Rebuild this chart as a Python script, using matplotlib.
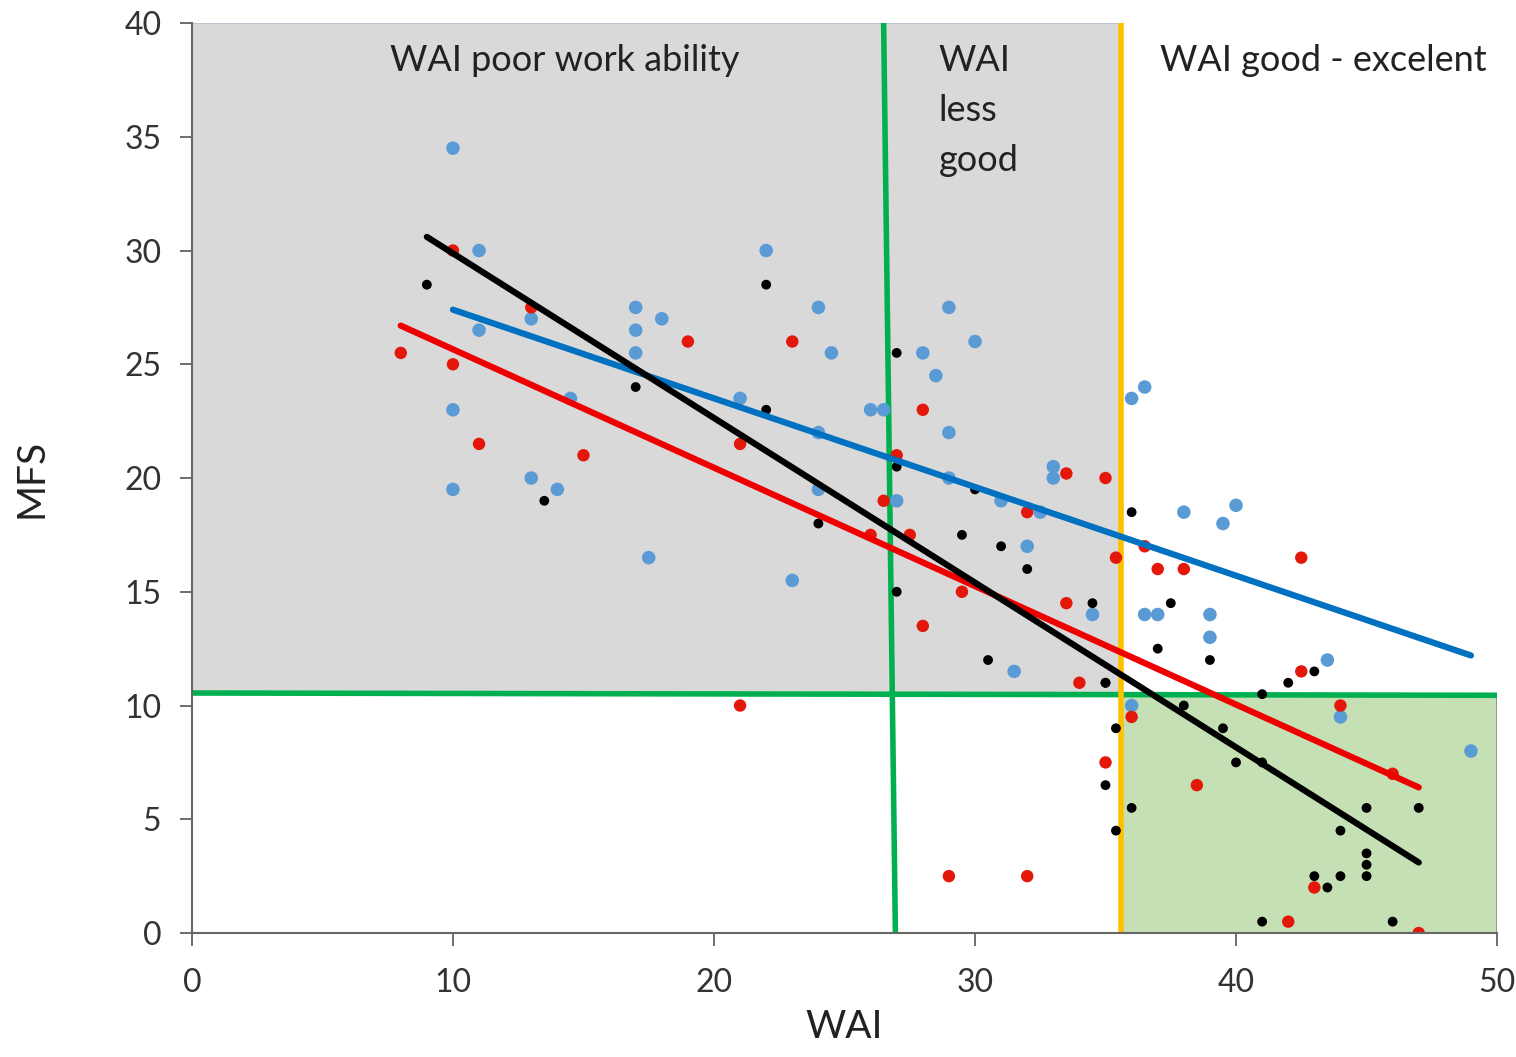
import matplotlib.pyplot as plt
import matplotlib.patches as mpatches

plt.rcParams['font.family'] = ['Lato', 'DejaVu Sans']

# scatter data (WAI, MFS)
blue_x = [10, 11, 11, 10, 10, 13, 13, 14, 14.5, 17, 17, 17, 18, 17.5, 22, 21, 24, 24.5, 24, 24,
          23, 26, 26.5, 27, 29, 28, 28.5, 29, 29, 30, 33, 33, 31, 32.5, 32, 34.5, 31.5, 36, 36.5,
          36.5, 37, 39, 39, 38, 39.5, 40, 43.5, 36, 44, 49]
blue_y = [34.5, 30, 26.5, 23, 19.5, 20, 27, 19.5, 23.5, 27.5, 26.5, 25.5, 27, 16.5, 30, 23.5, 27.5, 25.5, 22, 19.5,
          15.5, 23, 23, 19, 27.5, 25.5, 24.5, 22, 20, 26, 20.5, 20, 19, 18.5, 17, 14, 11.5, 23.5, 24,
          14, 14, 14, 13, 18.5, 18, 18.8, 12, 10, 9.5, 8]

red_x = [8, 10, 10, 11, 13, 15, 19, 23, 21, 21, 26, 26.5, 27, 27.5, 28, 28, 29.5, 32, 33.5, 35,
         33.5, 34, 35.4, 36.5, 37, 38, 42.5, 42.5, 44, 36, 35, 38.5, 43, 42, 47, 46, 29, 32]
red_y = [25.5, 30, 25, 21.5, 27.5, 21, 26, 26, 21.5, 10, 17.5, 19, 21, 17.5, 23, 13.5, 15, 18.5, 20.2, 20,
         14.5, 11, 16.5, 17, 16, 16, 16.5, 11.5, 10, 9.5, 7.5, 6.5, 2, 0.5, 0, 7, 2.5, 2.5]

black_x = [9, 13.5, 17, 22, 22, 24, 27, 27, 27, 29.5, 31, 32, 30.5, 30, 34.5, 35, 36, 37, 37.5, 39,
           35, 41, 42, 43, 38, 39.5, 35.4, 40, 41, 35, 36, 45, 47, 35.4, 44, 45, 45, 45, 43, 44,
           43.5, 41, 46]
black_y = [28.5, 19, 24, 28.5, 23, 18, 25.5, 20.5, 15, 17.5, 17, 16, 12, 19.5, 14.5, 11, 18.5, 12.5, 14.5, 12,
           11, 10.5, 11, 11.5, 10, 9, 9, 7.5, 7.5, 6.5, 5.5, 5.5, 5.5, 4.5, 4.5, 3.5, 3, 2.5, 2.5, 2.5,
           2, 0.5, 0.5]

# trend line end points
blue_line_x, blue_line_y = [10, 49], [27.4, 12.2]
red_line_x, red_line_y = [8, 47], [26.7, 6.4]
black_line_x, black_line_y = [9, 47], [30.6, 3.1]

# cut-off lines
mfs_cut = [10.55, 10.45]
wai_poor_x, wai_poor_y = [26.5, 26.95], [40, 0]
wai_good = 35.6

fig = plt.figure(figsize=(15.16, 10.57), dpi=100)
ax = fig.add_axes([0.1266, 0.1173, 0.8609, 0.8609])
ax.set_xlim(0, 50)
ax.set_ylim(0, 40)

# shaded zones
ax.add_patch(mpatches.Rectangle((0, 10.5), wai_good, 29.5, facecolor='#d9d9d9',
                                edgecolor='#b4c0cc', lw=1.2, zorder=0))
ax.add_patch(mpatches.Rectangle((wai_good, 0), 50 - wai_good, 10.5, facecolor='#c5e0b4',
                                edgecolor='#7f8f85', lw=1.2, zorder=0))

ax.plot([0, 50], mfs_cut, color='#00b050', lw=4, zorder=1)
ax.plot(wai_poor_x, wai_poor_y, color='#00b050', lw=4, zorder=1)
ax.plot([wai_good, wai_good], [0, 40], color='#ffc000', lw=4, zorder=1)

ax.scatter(blue_x, blue_y, s=95, color='#5b9bd5', edgecolors='none', zorder=2)
ax.scatter(red_x, red_y, s=80, color='#e3170a', edgecolors='none', zorder=2)
ax.scatter(black_x, black_y, s=50, color='black', edgecolors='none', zorder=2)

ax.plot(blue_line_x, blue_line_y, color='#0070c0', lw=4.5, solid_capstyle='round', zorder=3)
ax.plot(red_line_x, red_line_y, color='#ee0000', lw=4.5, solid_capstyle='round', zorder=3)
ax.plot(black_line_x, black_line_y, color='black', lw=4.5, solid_capstyle='round', zorder=3)

tc = '#222222'
fs = 26
ax.text(7.6, 38.37, 'WAI poor work ability', fontsize=fs, color=tc, va='center', zorder=4)
ax.text(28.6, 38.37, 'WAI', fontsize=fs, color=tc, va='center', zorder=4)
ax.text(28.6, 36.17, 'less', fontsize=fs, color=tc, va='center', zorder=4)
ax.text(28.6, 33.97, 'good', fontsize=fs, color=tc, va='center', zorder=4)
ax.text(37.1, 38.37, 'WAI good - excelent', fontsize=fs, color=tc, va='center', zorder=4)

ax.set_xticks(range(0, 51, 10))
ax.set_yticks(range(0, 41, 5))
ax.tick_params(labelsize=23, length=9, width=1.2, colors='#555555', labelcolor='#333333', pad=13)
ax.tick_params(axis='x', pad=16)
for s in ['top', 'right']:
    ax.spines[s].set_visible(False)
for s in ['left', 'bottom']:
    ax.spines[s].set_color('#666666')
    ax.spines[s].set_linewidth(1.5)

ax.set_xlabel('WAI', fontsize=28, color=tc, labelpad=8)
ax.set_ylabel('MFS', fontsize=28, color=tc, labelpad=54)

fig.savefig('out.png', dpi=100)
